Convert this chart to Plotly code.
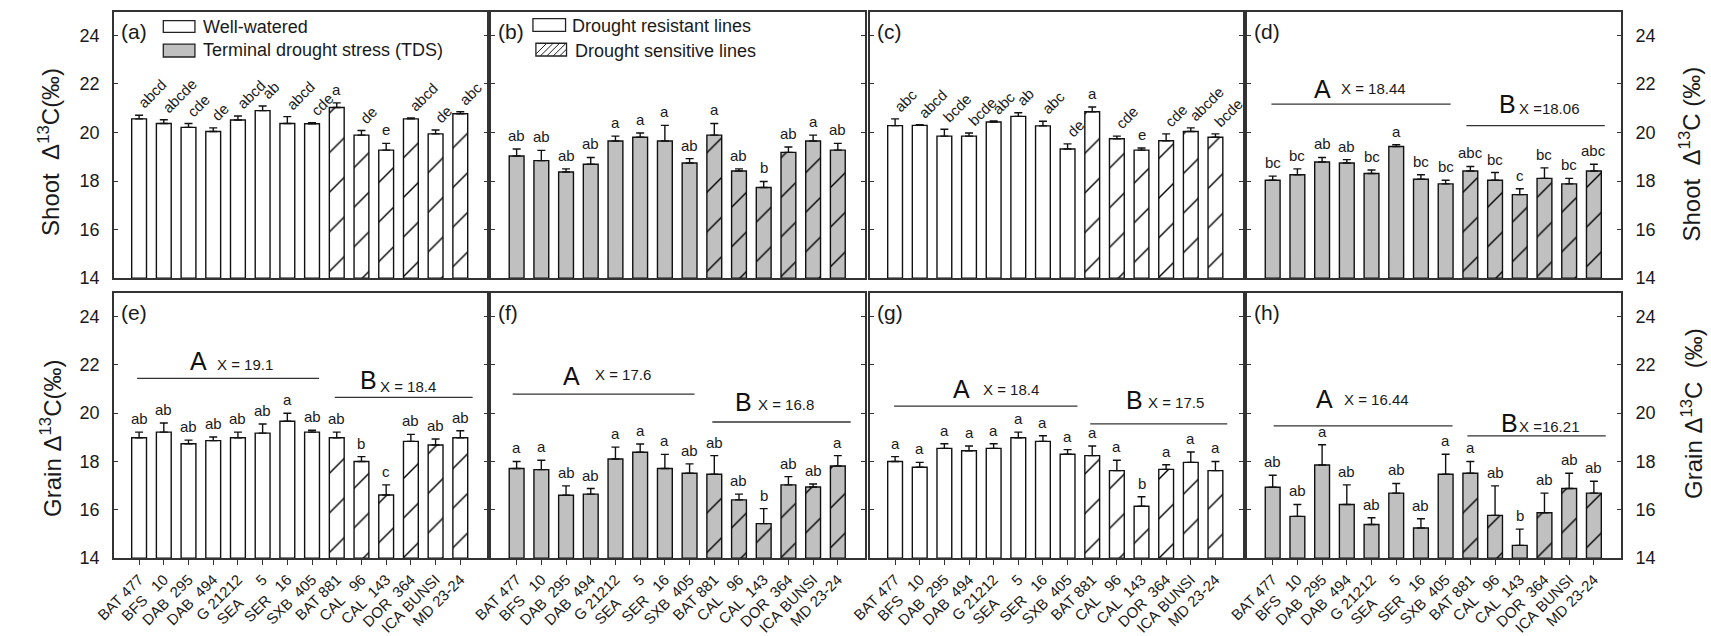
import plotly.graph_objects as go

NB = "\u00a0"
cultivars = ["BAT" + NB + "477", "BFS" + NB * 3 + "10", "DAB" + NB * 2 + "295", "DAB" + NB * 2 + "494",
             "G" + NB + "21212", "SEA" + NB * 6 + "5", "SER" + NB * 3 + "16", "SXB" + NB * 2 + "405",
             "BAT" + NB + "881", "CAL" + NB * 3 + "96", "CAL" + NB * 2 + "143", "DOR" + NB * 2 + "364",
             "ICA" + NB + "BUNSI", "MD" + NB + "23-24"]
n_resistant = 8  # first 8 lines drought resistant, last 6 sensitive

# ---- Shoot (top row) ----
a_mean = [20.56, 20.37, 20.21, 20.04, 20.51, 20.90, 20.37, 20.36, 21.03, 19.89, 19.27, 20.56, 19.94, 20.77]
a_se = [0.15, 0.15, 0.16, 0.15, 0.17, 0.19, 0.28, 0.04, 0.19, 0.19, 0.28, 0.04, 0.16, 0.08]
a_let = ["abcd", "abcde", "cde", "de", "abcd", "ab", "abcd", "cde", "a", "de", "e", "abcd", "de", "abc"]

b_mean = [19.03, 18.84, 18.37, 18.69, 19.65, 19.80, 19.65, 18.74, 19.89, 18.41, 17.73, 19.18, 19.65, 19.27]
b_se = [0.29, 0.42, 0.13, 0.28, 0.20, 0.18, 0.64, 0.18, 0.48, 0.09, 0.25, 0.22, 0.24, 0.28]
b_let = ["ab", "ab", "ab", "ab", "a", "a", "a", "ab", "a", "ab", "b", "ab", "a", "ab"]

c_mean = [20.28, 20.29, 19.85, 19.85, 20.43, 20.66, 20.27, 19.32, 20.85, 19.74, 19.27, 19.66, 20.04, 19.80]
c_se = [0.28, 0.03, 0.28, 0.13, 0.04, 0.15, 0.19, 0.21, 0.20, 0.11, 0.09, 0.28, 0.15, 0.14]
c_let = ["abc", "abcd", "bcde", "bcde", "abc", "ab", "abc", "de", "a", "cde", "e", "cde", "abcde", "bcde"]

d_mean = [18.03, 18.26, 18.78, 18.74, 18.31, 19.42, 18.07, 17.88, 18.41, 18.03, 17.44, 18.11, 17.88, 18.41]
d_se = [0.17, 0.24, 0.19, 0.14, 0.14, 0.08, 0.19, 0.15, 0.19, 0.32, 0.24, 0.43, 0.23, 0.28]
d_let = ["bc", "bc", "ab", "ab", "bc", "a", "bc", "bc", "abc", "bc", "c", "bc", "bc", "abc"]

# ---- Grain (bottom row) ----
e_mean = [18.98, 19.21, 18.73, 18.86, 18.98, 19.17, 19.66, 19.21, 18.98, 18.00, 16.61, 18.83, 18.68, 18.98]
e_se = [0.23, 0.38, 0.15, 0.15, 0.23, 0.38, 0.33, 0.08, 0.23, 0.20, 0.42, 0.29, 0.25, 0.29]
e_let = ["ab", "ab", "ab", "ab", "ab", "ab", "a", "ab", "ab", "b", "c", "ab", "ab", "ab"]

f_mean = [17.71, 17.66, 16.60, 16.65, 18.10, 18.38, 17.71, 17.51, 17.47, 16.41, 15.43, 17.03, 16.94, 17.81]
f_se = [0.29, 0.39, 0.39, 0.23, 0.49, 0.34, 0.58, 0.39, 0.77, 0.24, 0.62, 0.34, 0.13, 0.43]
f_let = ["a", "a", "ab", "ab", "a", "a", "a", "ab", "ab", "ab", "b", "ab", "ab", "a"]

g_mean = [18.00, 17.76, 18.54, 18.44, 18.54, 18.98, 18.83, 18.30, 18.24, 17.62, 16.15, 17.67, 17.96, 17.62]
g_se = [0.20, 0.20, 0.19, 0.20, 0.19, 0.23, 0.23, 0.19, 0.40, 0.43, 0.39, 0.19, 0.43, 0.38]
g_let = ["a", "a", "a", "a", "a", "a", "a", "a", "a", "a", "b", "a", "a", "a"]

h_mean = [16.93, 15.73, 17.85, 16.22, 15.39, 16.69, 15.25, 17.47, 17.51, 15.77, 14.53, 15.88, 16.88, 16.69]
h_se = [0.50, 0.49, 0.84, 0.81, 0.28, 0.40, 0.38, 0.83, 0.49, 1.22, 0.67, 0.81, 0.63, 0.49]
h_let = ["ab", "ab", "a", "ab", "ab", "ab", "ab", "a", "a", "ab", "b", "ab", "ab", "ab"]

# group means (resistant "A", sensitive "B")
group_means = {"d": ("18.44", "18.06"), "e": ("19.1", "18.4"), "f": ("17.6", "16.8"),
               "g": ("18.4", "17.5"), "h": ("16.44", "16.21")}

W, H = 1711, 636
FONT = "Arial, Liberation Sans, sans-serif"
TXT = "#1a1a1a"
GRAY = "#c0c0c0"
AX = "#333333"

def px(x):
    return x / W

def py(y):
    return 1 - y / H

cols = [(95, 473), (477, 855), (860, 1237), (1242, 1620)]
rows = [(12, 283), (298, 568)]

panels = [
    ("a", a_mean, a_se, a_let, "white", True, 0, 0),
    ("b", b_mean, b_se, b_let, GRAY, False, 0, 1),
    ("c", c_mean, c_se, c_let, "white", True, 0, 2),
    ("d", d_mean, d_se, d_let, GRAY, False, 0, 3),
    ("e", e_mean, e_se, e_let, "white", False, 1, 0),
    ("f", f_mean, f_se, f_let, GRAY, False, 1, 1),
    ("g", g_mean, g_se, g_let, "white", False, 1, 2),
    ("h", h_mean, h_se, h_let, GRAY, False, 1, 3),
]

group_layout = {
    "d": dict(lineA=(-0.05, 7.2, 21.17), lineB=(7.84, 13.44, 20.28), A=(2.0, 21.81), XA=(4.1, 21.81), B=(9.5, 21.17), XB=(11.2, 21.0)),
    "e": dict(lineA=(-0.08, 7.28, 21.43), lineB=(7.92, 13.5, 20.65), A=(2.4, 22.16), XA=(4.3, 22.0), B=(9.3, 21.35), XB=(10.9, 21.1)),
    "f": dict(lineA=(-0.16, 7.2, 20.78), lineB=(7.92, 13.52, 19.63), A=(2.24, 21.55), XA=(4.3, 21.59), B=(9.2, 20.45), XB=(10.9, 20.37)),
    "g": dict(lineA=(-0.04, 7.4, 20.29), lineB=(7.92, 13.48, 19.55), A=(2.7, 20.98), XA=(4.7, 20.98), B=(9.7, 20.53), XB=(11.4, 20.45)),
    "h": dict(lineA=(0.04, 7.28, 19.47), lineB=(7.88, 13.48, 19.06), A=(2.1, 20.57), XA=(4.2, 20.57), B=(9.6, 19.59), XB=(11.2, 19.43)),
}

fig = go.Figure()
layout = dict(width=W, height=H, margin=dict(l=0, r=0, t=0, b=0),
              paper_bgcolor="white", plot_bgcolor="white", showlegend=False,
              font=dict(family=FONT, color=TXT))
annotations = []
shapes = []

xcats = list(range(len(cultivars)))

for k, (name, mean, se, lets, base_color, rotate, r, c) in enumerate(panels):
    idx = k + 1
    xa = "x" if idx == 1 else f"x{idx}"
    ya = "y" if idx == 1 else f"y{idx}"
    shapes_list = ["" if i < n_resistant else "/" for i in xcats]
    fig.add_trace(go.Bar(
        x=xcats, y=[m - 14 for m in mean], base=14, xaxis=xa, yaxis=ya,
        width=0.6,
        marker=dict(color=base_color, line=dict(color="#111111", width=1.4),
                    pattern=dict(shape=shapes_list, fgcolor="#000000", fgopacity=1, size=28, solidity=0.05)),
        error_y=dict(type="data", symmetric=False, array=se, arrayminus=[0] * len(se),
                     color="#111111", thickness=1.4, width=4),
        hoverinfo="skip",
    ))
    x0, x1 = cols[c]
    y0, y1 = rows[r]
    right = (c == 3)
    xkey = "xaxis" if idx == 1 else f"xaxis{idx}"
    ykey = "yaxis" if idx == 1 else f"yaxis{idx}"
    layout[xkey] = dict(domain=[px(x0), px(x1)], anchor=ya, range=[-1.02, 14.1],
                        showline=True, mirror=True, linecolor=AX, linewidth=1.5,
                        showgrid=False, zeroline=False,
                        tickmode="array", tickvals=xcats, ticktext=cultivars,
                        showticklabels=(r == 1), ticks="outside" if r == 1 else "",
                        ticklen=5, tickcolor=AX, tickangle=-45,
                        tickfont=dict(size=15, family=FONT, color=TXT))
    layout[ykey] = dict(domain=[py(y1), py(y0)], anchor=xa, range=[14, 24.97],
                        side="right" if right else "left",
                        showline=True, mirror="ticks", linecolor=AX, linewidth=1.5,
                        showgrid=False, zeroline=False,
                        tickvals=[14, 16, 18, 20, 22, 24], ticks="inside", ticklen=4, tickcolor=AX,
                        showticklabels=(c in (0, 3)), ticklabelstandoff=9,
                        tickfont=dict(size=18, family=FONT, color=TXT))
    for i, (m, s, t) in enumerate(zip(mean, se, lets)):
        if rotate and len(t) > 1:
            annotations.append(dict(x=i - 0.3, y=m + s, xref=xa, yref=ya, text=t, showarrow=False,
                                    textangle=-45, xanchor="left", yanchor="bottom", yshift=1,
                                    font=dict(size=15, family=FONT, color=TXT)))
        else:
            annotations.append(dict(x=i, y=m + s, xref=xa, yref=ya, text=t, showarrow=False,
                                    xanchor="center", yanchor="bottom", yshift=3,
                                    font=dict(size=15, family=FONT, color=TXT)))
    annotations.append(dict(x=px(x0 + 5), y=py(y0 + 20), xref="paper", yref="paper", text=f"({name})",
                            showarrow=False, xanchor="left", yanchor="middle",
                            font=dict(size=21, family=FONT, color=TXT)))
    if name in group_layout:
        gl = group_layout[name]
        ma, mb = group_means[name]
        for key in ("lineA", "lineB"):
            lx0, lx1, ly = gl[key]
            shapes.append(dict(type="line", xref=xa, yref=ya, x0=lx0, x1=lx1, y0=ly, y1=ly,
                               line=dict(color="#333333", width=1.3)))
        annotations.append(dict(x=gl["A"][0], y=gl["A"][1], xref=xa, yref=ya, text="A", showarrow=False,
                                font=dict(size=25, family=FONT, color="#111")))
        annotations.append(dict(x=gl["B"][0], y=gl["B"][1], xref=xa, yref=ya, text="B", showarrow=False,
                                font=dict(size=25, family=FONT, color="#111")))
        annotations.append(dict(x=gl["XA"][0], y=gl["XA"][1], xref=xa, yref=ya, text="X = " + ma,
                                showarrow=False, font=dict(size=15, family=FONT, color=TXT)))
        sepb = " =" if name in ("d", "h") else " = "
        annotations.append(dict(x=gl["XB"][0], y=gl["XB"][1], xref=xa, yref=ya, text="X" + sepb + mb,
                                showarrow=False, font=dict(size=15, family=FONT, color=TXT)))

titles = [
    (30, 155, "Shoot" + NB + NB + "Δ<sup>13</sup>C(‰)"),
    (32, 446, "Grain Δ<sup>13</sup>C(‰)"),
    (1690, 157, "Shoot" + NB + NB + "Δ<sup>13</sup>C" + NB + "(‰)"),
    (1691, 421, "Grain Δ<sup>13</sup>C" + NB + NB + "(‰)"),
]
for x, y, t in titles:
    annotations.append(dict(x=px(x), y=py(y), xref="paper", yref="paper", text=t, showarrow=False,
                            textangle=-90, xanchor="center", yanchor="middle",
                            font=dict(size=24, family=FONT, color=TXT)))

def box(x0, y0, x1, y1, fill):
    shapes.append(dict(type="rect", xref="paper", yref="paper", x0=px(x0), x1=px(x1), y0=py(y1), y1=py(y0),
                       fillcolor=fill, line=dict(color="#222222", width=1.3)))

box(145, 21, 177, 33, "white")
box(145, 45, 177, 58, GRAY)
annotations.append(dict(x=px(183), y=py(27), xref="paper", yref="paper", text="Well-watered", showarrow=False,
                        xanchor="left", yanchor="middle", font=dict(size=18, family=FONT, color=TXT)))
annotations.append(dict(x=px(183), y=py(51), xref="paper", yref="paper", text="Terminal drought stress (TDS)",
                        showarrow=False, xanchor="left", yanchor="middle", font=dict(size=18, family=FONT, color=TXT)))
box(519, 19, 552, 32, "white")
box(522, 44, 553, 57, "white")
for k in range(6):
    sx = 522 + k * 6.5
    xa0, ya0 = sx - 2, 57
    xa1, ya1 = sx + 11, 44
    if xa0 < 522:
        ya0 = 57 - (522 - xa0)
        xa0 = 522
    if xa1 > 553:
        ya1 = 44 + (xa1 - 553)
        xa1 = 553
    shapes.append(dict(type="line", xref="paper", yref="paper", x0=px(xa0), y0=py(ya0), x1=px(xa1), y1=py(ya1),
                       line=dict(color="#222222", width=1)))
annotations.append(dict(x=px(557), y=py(26), xref="paper", yref="paper", text="Drought resistant lines",
                        showarrow=False, xanchor="left", yanchor="middle", font=dict(size=18, family=FONT, color=TXT)))
annotations.append(dict(x=px(560), y=py(52), xref="paper", yref="paper", text="Drought sensitive lines",
                        showarrow=False, xanchor="left", yanchor="middle", font=dict(size=18, family=FONT, color=TXT)))

layout["annotations"] = annotations
layout["shapes"] = shapes
fig.update_layout(**layout)
fig.write_html("out.html", config={"displayModeBar": False},
               post_script="document.body.style.margin='0';document.body.style.overflow='hidden';")
